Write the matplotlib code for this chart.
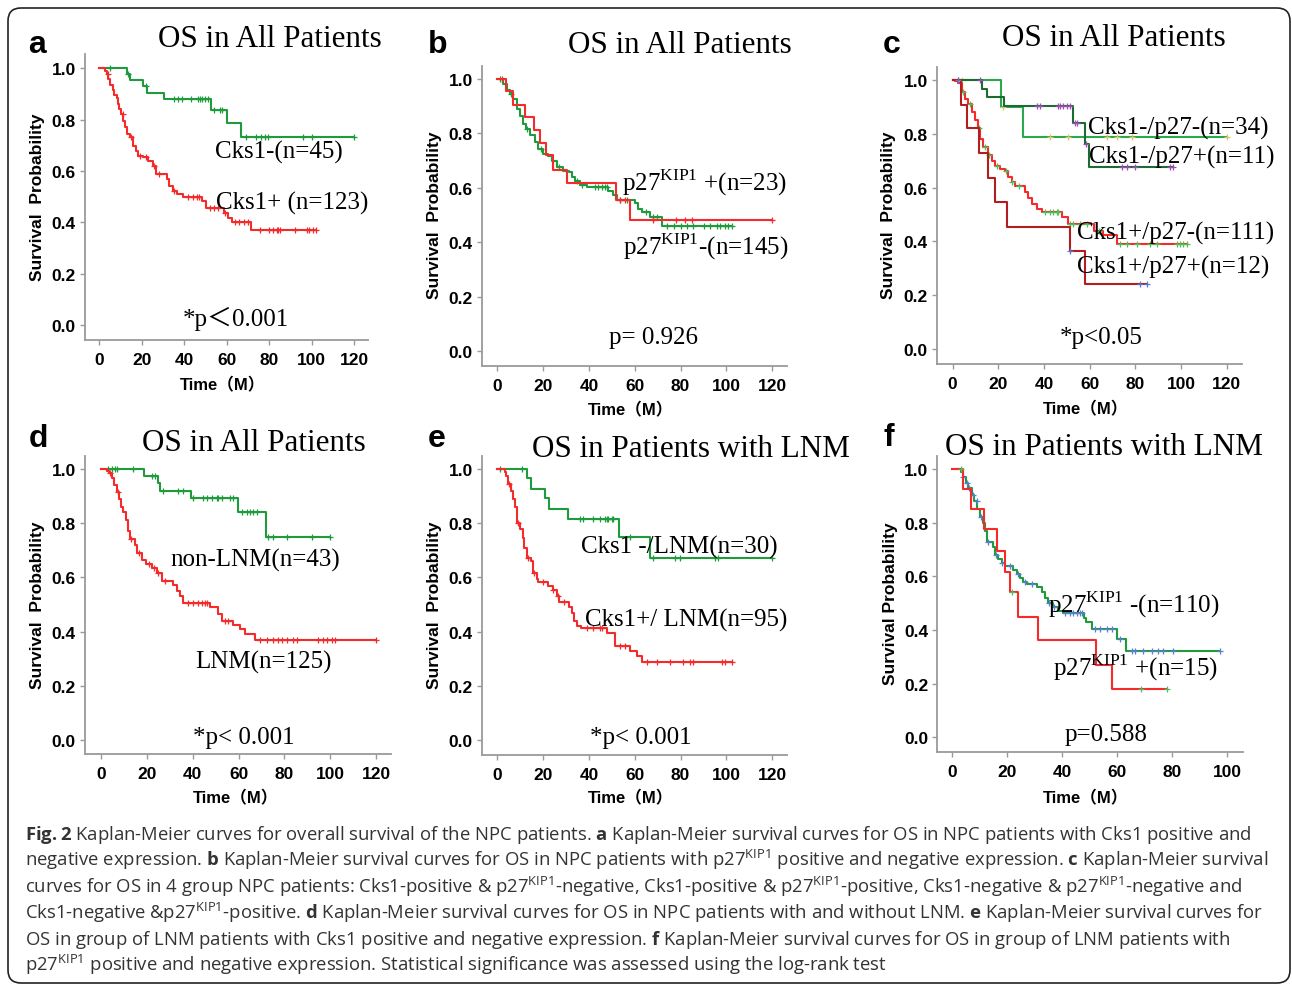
import numpy as np
import matplotlib
matplotlib.use('Agg')
import matplotlib.pyplot as plt
from matplotlib.patches import FancyBboxPatch

W, H = 1292, 987
SANS = ['Liberation Sans', 'Noto Sans CJK SC']
SERIF = ['Liberation Serif', 'Noto Sans CJK SC']
plt.rcParams['font.family'] = SANS
plt.rcParams['mathtext.fontset'] = 'custom'
plt.rcParams['mathtext.rm'] = 'Open Sans'
plt.rcParams['mathtext.bf'] = 'Open Sans:bold'

# ---- data (time of each drop, survival after it, last time, censored times)
a_neg_t = [12.9, 14.4, 20.7, 22.7, 30.6, 52.5, 60.0, 66.7]
a_neg_s = [0.978, 0.956, 0.933, 0.906, 0.879, 0.839, 0.786, 0.734]
a_neg_end = 120
a_neg_cens = [5, 13.5, 22, 35, 37, 39, 43, 46.5, 47.5, 48.6, 49.7, 51, 54, 57, 58,
              69, 74, 76, 78, 79.5, 96, 100, 120]
a_pos_t = [2.7, 3.5, 4.2, 5.0, 6.3, 7.1, 8.2, 8.6, 9.4, 10.2, 11.3, 12.1, 12.9, 14.4, 16.0,
           17.3, 18.4, 20.7, 23.1, 25.1, 26.7, 31.7, 32.9, 34.8, 36.4, 39.5, 48.6, 50.5,
           58.7, 60.7, 62.6, 71.7]
a_pos_s = [0.99, 0.977, 0.958, 0.935, 0.917, 0.896, 0.883, 0.861, 0.842, 0.822, 0.796, 0.77,
           0.744, 0.731, 0.699, 0.679, 0.66, 0.653, 0.64, 0.621, 0.588, 0.569, 0.543, 0.523,
           0.51, 0.5, 0.484, 0.455, 0.436, 0.416, 0.4, 0.371]
a_pos_end = 102.3
a_pos_cens = [4, 11, 15, 19, 22, 26, 28, 35, 42, 44, 46, 47, 52, 54, 56, 59, 64, 66, 68, 70,
              75.6, 80, 82, 83.5, 84, 85, 92, 98, 99, 100.7, 102.3]

b_pos_t = [3.8, 7.0, 12.1, 16.0, 18.6, 21.1, 24.1, 30.5, 51.8, 57.9]
b_pos_s = [0.957, 0.906, 0.862, 0.814, 0.765, 0.721, 0.666, 0.618, 0.556, 0.483]
b_pos_end = 120
b_pos_cens = [2, 53.5, 55.7, 68, 78, 82, 84.8, 120]
b_neg_t = [2.6, 4.4, 5.5, 7.0, 8.4, 9.9, 11.3, 12.5, 14.3, 16.4, 17.9, 20.1, 22.3, 23.7, 25.9,
           28.8, 31.4, 32.4, 33.9, 36.1, 39.0, 48.4, 50.6, 52.1, 60.1, 61.5, 63.0, 66.6, 71.7]
b_neg_s = [0.982, 0.960, 0.946, 0.927, 0.890, 0.865, 0.835, 0.816, 0.794, 0.767, 0.743, 0.725,
           0.718, 0.700, 0.676, 0.663, 0.657, 0.639, 0.627, 0.611, 0.602, 0.590, 0.574, 0.556,
           0.545, 0.523, 0.510, 0.492, 0.461]
b_neg_end = 102.3
b_neg_cens = [1, 6, 13, 19, 27, 35, 37, 42.6, 44, 45.5, 47, 47.7, 53.5, 56.4, 65, 68, 69.5,
              74, 77, 80, 82.6, 85.5, 90, 92.8, 95.7, 97, 99.3, 100.8, 102.3]

c_nn_t = [12.7, 14.9, 22.5, 52.8, 58.0, 59.7]
c_nn_s = [0.967, 0.936, 0.902, 0.839, 0.762, 0.678]
c_nn_end = 96.6
c_nn_cens = [2.5, 12, 36.8, 38.2, 46.3, 47, 48.5, 49.9, 51.4, 53.5, 54.3, 58.5, 74, 76.2,
             79.9, 95.2, 96.6]
c_np_t = [21.2, 30.9]
c_np_s = [0.898, 0.787]
c_np_end = 120
c_np_cens = [3.9, 22.2, 42.6, 50.7, 67.4, 71.8, 78.4, 120]
c_pn_t = [1.0, 2.5, 3.9, 5.4, 6.9, 8.3, 9.8, 10.9, 12.0, 13.4, 15.6, 17.1, 18.5, 20.7, 22.9,
          24.4, 25.8, 27.3, 31.7, 33.1, 34.6, 36.8, 39.0, 47.7, 50.7, 62.0, 66.0, 71.8]
c_pn_s = [0.995, 0.99, 0.955, 0.93, 0.91, 0.88, 0.85, 0.82, 0.78, 0.75, 0.72, 0.70, 0.68,
          0.67, 0.66, 0.64, 0.62, 0.605, 0.585, 0.56, 0.54, 0.52, 0.51, 0.49, 0.465, 0.44,
          0.425, 0.39]
c_pn_end = 102.5
c_pn_cens = [4.5, 7.5, 11.5, 14, 16, 19.5, 23.5, 26, 29, 40.4, 42.6, 44, 45.5, 46.3, 51.4,
             52.8, 55.8, 58.7, 64, 73.3, 76.2, 80.6, 86.4, 89.3, 98.1, 99.6, 101, 102.5]
c_pp_t = [3.5, 6.4, 11.7, 15.6, 18.5, 23.6, 51.4, 58.0]
c_pp_s = [0.907, 0.82, 0.727, 0.634, 0.548, 0.452, 0.363, 0.242]
c_pp_end = 85
c_pp_cens = [2.5, 51.6, 82, 85]

d_neg_t = [18.9, 24.7, 25.7, 39.1, 59.9, 72.0]
d_neg_s = [0.975, 0.95, 0.92, 0.892, 0.843, 0.748]
d_neg_end = 100
d_neg_cens = [3.2, 4.7, 6.1, 6.8, 14.1, 22.1, 23.6, 27.2, 33.7, 35.9, 40.3, 44.7, 46.1, 48.3,
              50.5, 51.2, 52.7, 56.3, 57.7, 61.4, 63.6, 65, 66.5, 68, 72.9, 75.2, 81, 91.9, 100]
d_pos_t = [2.8, 3.6, 4.7, 5.8, 6.8, 8.0, 8.7, 9.7, 10.9, 11.9, 12.7, 14.8, 15.9, 17.7, 19.6,
           22.1, 24.3, 26.5, 31.6, 33.0, 34.5, 35.9, 47.6, 51.2, 52.7, 57.7, 60.7, 62.8, 67.2]
d_pos_s = [0.992, 0.985, 0.965, 0.94, 0.914, 0.89, 0.86, 0.84, 0.81, 0.77, 0.742, 0.72, 0.69,
           0.665, 0.65, 0.635, 0.615, 0.588, 0.57, 0.551, 0.53, 0.505, 0.49, 0.465, 0.44,
           0.425, 0.41, 0.39, 0.37]
d_pos_end = 120
d_pos_cens = [4, 7.5, 13, 16.5, 21, 23, 25, 28, 38.1, 40.3, 42.5, 43.9, 45.4, 46.1, 54.1,
              55.6, 69.4, 72.3, 75.2, 77.4, 78.8, 81, 83.9, 85.4, 94.8, 97, 98.5, 100.7,
              102.1, 120]

e_neg_t = [12.8, 14.7, 20.8, 22.7, 31.0, 53.1, 66.6]
e_neg_s = [0.967, 0.926, 0.892, 0.853, 0.816, 0.748, 0.672]
e_neg_end = 120
e_neg_cens = [1, 10.6, 36, 37.5, 41.9, 44.8, 47, 47.7, 48.4, 49.9, 50.6, 57.9, 68, 77.5,
              79.7, 95, 96.4, 120]
e_pos_t = [3.3, 3.8, 4.8, 5.8, 6.7, 7.7, 8.7, 9.9, 11.1, 11.8, 12.8, 14.7, 15.7, 17.2, 17.9,
           22.3, 24.1, 25.9, 27.1, 31.4, 32.4, 33.5, 34.9, 36.5, 47.7, 51.3, 57.9, 60.8, 63.0]
e_pos_s = [0.99, 0.975, 0.945, 0.92, 0.89, 0.86, 0.80, 0.78, 0.745, 0.71, 0.672, 0.66, 0.615,
           0.595, 0.582, 0.57, 0.555, 0.53, 0.508, 0.49, 0.47, 0.44, 0.42, 0.412, 0.395,
           0.348, 0.33, 0.311, 0.289]
e_pos_end = 102.3
e_pos_cens = [5, 9, 13.5, 16, 20, 24.5, 26.5, 29, 39, 41.9, 44.8, 45.5, 53.5, 55.7, 65.2,
              69.5, 75.3, 81.2, 84.1, 85.5, 97.9, 99.3, 102.3]

f_pos_t = [3.8, 6.8, 11.6, 16.1, 19.2, 21.0, 23.8, 31.0, 52.2, 57.9]
f_pos_s = [0.925, 0.851, 0.776, 0.696, 0.617, 0.543, 0.45, 0.363, 0.27, 0.18]
f_pos_end = 78
f_pos_cens = [3, 21.6, 68.8, 78]
f_neg_t = [3.2, 4.0, 5.0, 5.8, 7.0, 8.0, 9.1, 10.1, 11.0, 11.9, 12.8, 14.7, 15.5, 16.7, 17.9,
           19.2, 22.2, 23.4, 24.6, 25.8, 27.0, 30.7, 32.5, 33.7, 34.9, 36.7, 38.5, 40.4,
           47.9, 48.8, 50.7, 59.8, 63.0]
f_neg_s = [0.99, 0.97, 0.95, 0.93, 0.905, 0.88, 0.85, 0.82, 0.80, 0.77, 0.73, 0.71, 0.68,
           0.665, 0.65, 0.64, 0.625, 0.61, 0.595, 0.58, 0.57, 0.56, 0.54, 0.52, 0.50, 0.485,
           0.47, 0.465, 0.445, 0.43, 0.404, 0.366, 0.323]
f_neg_end = 97.3
f_neg_cens = [4, 5.2, 6.2, 7.5, 9, 10.6, 13, 15.8, 18, 21, 24, 26.5, 29, 35, 37, 41, 42.8,
              44, 45.2, 46.4, 47, 51.9, 53.7, 56.1, 57.9, 61, 65.2, 66.4, 69.5, 72.5, 74.9,
              76.7, 80.4, 97.3]

yticks = [0.0, 0.2, 0.4, 0.6, 0.8, 1.0]
xticks120 = [0, 20, 40, 60, 80, 100, 120]
xticks100 = [0, 20, 40, 60, 80, 100]

GREEN = '#1f9b3e'
RED = '#f52b2b'
DGREEN = '#1d6a33'
LGREEN = '#2aa84c'
DRED = '#b31d1d'
SPINE = '#9a9a9a'

fig = plt.figure(figsize=(W / 100, H / 100), dpi=100)


def km(ax, t, s, end, cens, color, mcolor):
    xs = np.r_[0, t, end]
    ys = np.r_[1, s, s[-1]]
    ax.step(xs, ys, where='post', color=color, lw=1.5)
    c = np.asarray(cens, dtype=float)
    idx = np.searchsorted(t, c, side='right') - 1
    cy = np.where(idx >= 0, np.asarray(s)[np.clip(idx, 0, None)], 1.0)
    ax.plot(c, cy, '+', color=mcolor, ms=4.5, mew=0.9)


def panel(box, xlim, ylim, xt):
    l, r, t, b = box
    ax = fig.add_axes([l / W, 1 - b / H, (r - l) / W, (b - t) / H])
    ax.set_xlim(*xlim)
    ax.set_ylim(*ylim)
    for sp in ['top', 'right']:
        ax.spines[sp].set_visible(False)
    for sp in ['left', 'bottom']:
        ax.spines[sp].set_color(SPINE)
        ax.spines[sp].set_linewidth(1.3)
    ax.set_xticks(xt)
    ax.set_xticklabels([str(v) for v in xt], fontweight='bold', fontsize=12.5)
    ax.set_yticks(yticks)
    ax.set_yticklabels([f'{v:.1f}' for v in yticks], fontweight='bold', fontsize=12.5)
    ax.tick_params(direction='out', length=3.5, width=1, color=SPINE, pad=3)
    ax.tick_params(axis='x', pad=5)
    return ax


def ftext(x, y, s, **kw):
    fig.text(x / W, 1 - y / H, s, **kw)


def labels(letter, lxy, title, txy, xl_xy, yl_xy, ylab='Survival  Probability'):
    ftext(lxy[0], lxy[1], letter, fontsize=23, fontweight='bold', family=SANS, va='baseline')
    ftext(txy[0], txy[1], title, fontsize=22.4, family=SERIF, va='baseline')
    ftext(xl_xy[0], xl_xy[1], 'Time（M）', fontsize=12, fontweight='bold', family=SANS,
          ha='center', va='center')
    ftext(yl_xy[0], yl_xy[1], ylab, fontsize=12.5, fontweight='bold', family=SANS,
          ha='center', va='center', rotation=90)


def note(x, y, s):
    ftext(x, y, s, fontsize=18, family=SERIF, va='center')


# a
ax = panel((85, 368, 55, 341), (-6.74, 126.6), (-0.058, 1.056), xticks120)
km(ax, a_neg_t, a_neg_s, a_neg_end, a_neg_cens, GREEN, GREEN)
km(ax, a_pos_t, a_pos_s, a_pos_end, a_pos_cens, RED, RED)
labels('a', (28, 53), 'OS in All Patients', (158, 47), (223, 385), (38, 197))
note(215, 152, 'Cks1-(n=45)')
note(216, 203, 'Cks1+ (n=123)')
note(183, 319, '*p＜0.001')

# b
ax = panel((481.7, 786.7, 66.7, 366.7), (-6.8, 126.3), (-0.053, 1.049), xticks120)
km(ax, b_neg_t, b_neg_s, b_neg_end, b_neg_cens, GREEN, GREEN)
km(ax, b_pos_t, b_pos_s, b_pos_end, b_pos_cens, RED, RED)
labels('b', (428, 53), 'OS in All Patients', (568, 53), (631, 410), (435, 215))
note(622, 183, r'p27$^{\mathregular{KIP1}}$ +(n=23)')
note(623, 247, r'p27$^{\mathregular{KIP1}}$-(n=145)')
note(609, 338, 'p= 0.926')

# c
ax = panel((936.7, 1241.7, 68, 365), (-7.0, 126.6), (-0.056, 1.048), xticks120)
km(ax, c_np_t, c_np_s, c_np_end, c_np_cens, LGREEN, '#d9c56b')
km(ax, c_nn_t, c_nn_s, c_nn_end, c_nn_cens, DGREEN, '#9b4fb3')
km(ax, c_pn_t, c_pn_s, c_pn_end, c_pn_cens, RED, '#4cc05a')
km(ax, c_pp_t, c_pp_s, c_pp_end, c_pp_cens, DRED, '#5a78d0')
labels('c', (883, 53), 'OS in All Patients', (1002, 46), (1086, 409), (889, 215))
note(1088, 128, 'Cks1-/p27-(n=34)')
note(1089, 157, 'Cks1-/p27+(n=11)')
note(1077, 233, 'Cks1+/p27-(n=111)')
note(1077, 267, 'Cks1+/p27+(n=12)')
note(1060, 338, '*p<0.05')

# d
ax = panel((85, 390.7, 456.7, 755), (-7.0, 126.4), (-0.052, 1.049), xticks120)
km(ax, d_neg_t, d_neg_s, d_neg_end, d_neg_cens, GREEN, GREEN)
km(ax, d_pos_t, d_pos_s, d_pos_end, d_pos_cens, RED, RED)
labels('d', (29, 447), 'OS in All Patients', (142, 451), (236, 798), (38, 605))
note(170, 560, 'non-LNM(n=43)')
note(195, 662, 'LNM(n=125)')
note(193, 738, '*p< 0.001')

# e
ax = panel((481.7, 786.7, 456.7, 755.7), (-6.8, 126.3), (-0.054, 1.049), xticks120)
km(ax, e_neg_t, e_neg_s, e_neg_end, e_neg_cens, GREEN, GREEN)
km(ax, e_pos_t, e_pos_s, e_pos_end, e_pos_cens, RED, RED)
labels('e', (428, 447), 'OS in Patients with LNM', (532, 457), (631, 798), (435, 605))
note(581, 547, 'Cks1 -/LNM(n=30)')
note(585, 620, 'Cks1+/ LNM(n=95)')
note(590, 738, '*p< 0.001')

# f
ax = panel((937.3, 1242.7, 456.7, 753.3), (-5.45, 105.6), (-0.056, 1.05), xticks100)
km(ax, f_neg_t, f_neg_s, f_neg_end, f_neg_cens, GREEN, '#5a7fd0')
km(ax, f_pos_t, f_pos_s, f_pos_end, f_pos_cens, RED, '#4cc05a')
labels('f', (883, 446), 'OS in Patients with LNM', (945, 455), (1086, 798), (890, 604),
       ylab='Survival Probability')
note(1048, 605, r'p27$^{\mathregular{KIP1}}$ -(n=110)')
note(1053, 668, r'p27$^{\mathregular{KIP1}}$ +(n=15)')
note(1065, 735, 'p=0.588')

# caption
cap_lines = [
    r"$\mathbf{Fig.2}$ Kaplan-Meier curves for overall survival of the NPC patients. $\mathbf{a}$ Kaplan-Meier survival curves for OS in NPC patients with Cks1 positive and",
    r"negative expression. $\mathbf{b}$ Kaplan-Meier survival curves for OS in NPC patients with p27$^{\mathregular{KIP1}}$ positive and negative expression. $\mathbf{c}$ Kaplan-Meier survival",
    r"curves for OS in 4 group NPC patients: Cks1-positive & p27$^{\mathregular{KIP1}}$-negative, Cks1-positive & p27$^{\mathregular{KIP1}}$-positive, Cks1-negative & p27$^{\mathregular{KIP1}}$-negative and",
    r"Cks1-negative &p27$^{\mathregular{KIP1}}$-positive. $\mathbf{d}$ Kaplan-Meier survival curves for OS in NPC patients with and without LNM. $\mathbf{e}$ Kaplan-Meier survival curves for",
    r"OS in group of LNM patients with Cks1 positive and negative expression. $\mathbf{f}$ Kaplan-Meier survival curves for OS in group of LNM patients with",
    r"p27$^{\mathregular{KIP1}}$ positive and negative expression. Statistical significance was assessed using the log-rank test",
]
# size the caption so that its longest lines end where they do in the figure
renderer = fig.canvas.get_renderer()
probe = fig.text(25 / W, 0.5, cap_lines[1], fontsize=13, family='Open Sans')
cap_size = 13 * 1237 / probe.get_window_extent(renderer).width
probe.remove()
for i, line in enumerate(cap_lines):
    ftext(25, 840 + 26.3 * i, line, fontsize=cap_size, family='Open Sans', color='#333333',
          va='baseline')

frame = FancyBboxPatch((0.08, 0.03), 12.82, 9.75, boxstyle='round,pad=0,rounding_size=0.13',
                       transform=fig.dpi_scale_trans, fc='none', ec='#222222', lw=1.2)
fig.add_artist(frame)

fig.savefig('out.png', dpi=100)
